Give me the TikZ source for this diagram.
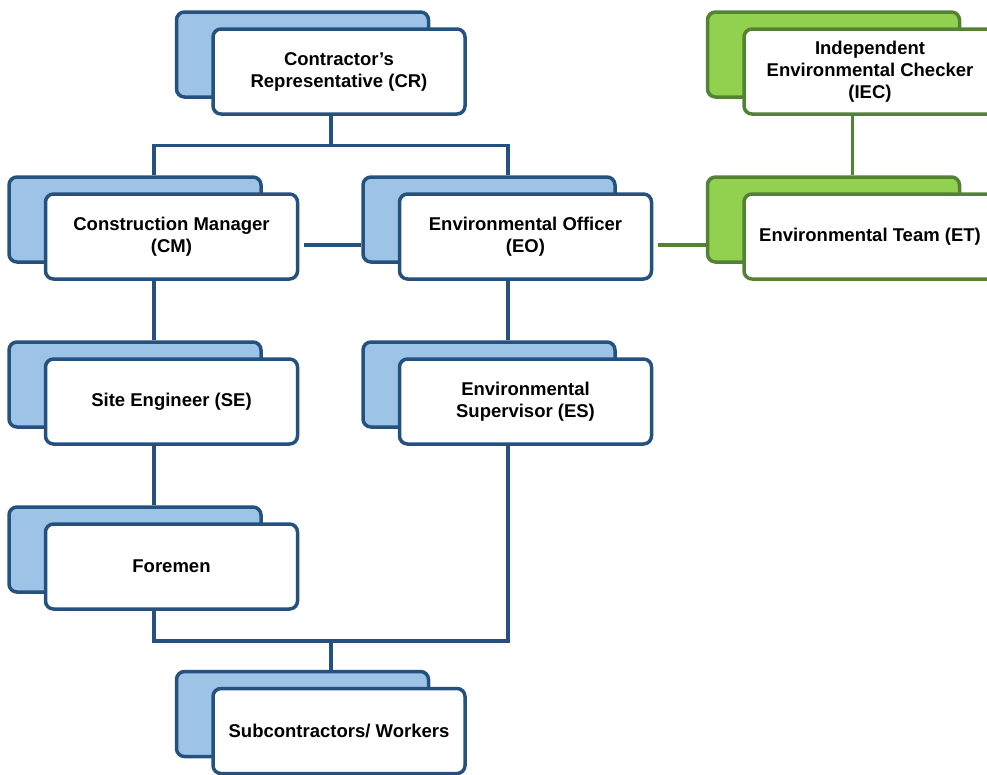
\documentclass[tikz,border=0pt]{standalone}
\usepackage{fontspec}
\setmainfont{Liberation Sans}
\usetikzlibrary{positioning, calc, backgrounds}
\definecolor{lineBlue}{HTML}{24517E}
\definecolor{fillBlue}{HTML}{9DC3E6}
\definecolor{lineGreen}{HTML}{548235}
\definecolor{fillGreen}{HTML}{92D050}

\begin{document}
\begin{tikzpicture}[x=1pt, y=-1pt,
    unitbox/.style={draw=lineBlue, line width=3.5pt, rounded corners=8pt, minimum width=252pt, minimum height=85pt},
    frontbox/.style={unitbox, fill=white, align=center, font=\bfseries\fontsize{18.5}{22}\selectfont},
    backbox/.style={unitbox, fill=fillBlue},
    link/.style={draw=lineBlue, line width=3.5pt},
    greenlink/.style={link, draw=lineGreen}]
    \useasboundingbox (0,0) rectangle (987,774);
    \clip (0,0) rectangle (987,774);

    % front boxes
    \node[frontbox] (cr) at (339,71.5) {Contractor’s\\Representative (CR)};
    \node[frontbox] (cm) at (171.5,236.5) {Construction Manager\\(CM)};
    \node[frontbox] (eo) at (525.5,236.5) {Environmental Officer\\(EO)};
    \node[frontbox] (se) at (171.5,401.5) {Site Engineer (SE)};
    \node[frontbox] (es) at (525.5,401.5) {Environmental\\Supervisor (ES)};
    \node[frontbox] (fm) at (171.5,566.5) {Foremen};
    \node[frontbox] (sub) at (339,731) {Subcontractors/ Workers};
    \node[frontbox, draw=lineGreen] (iec) at (870,71.5) {Independent\\Environmental Checker\\(IEC)};
    \node[frontbox, draw=lineGreen] (et) at (870,236.5) {Environmental Team (ET)};

    % back boxes
    \begin{scope}[on background layer]
        \foreach \nm in {cr, cm, eo, se, es, fm, sub}
            \node[backbox] (\nm b) at ([xshift=-36.5pt, yshift=17pt]\nm.center) {};
        \foreach \nm in {iec, et}
            \node[backbox, draw=lineGreen, fill=fillGreen] (\nm b) at ([xshift=-36.5pt, yshift=17pt]\nm.center) {};
    \end{scope}

    % top bus
    \draw[link] ([xshift=19pt]cmb.north) -- ++(0,-30) -| ([xshift=19pt]eob.north);
    \path ($([xshift=19pt]cmb.north)!0.5!([xshift=19pt]eob.north)$) ++(0,-30) coordinate (topmid);
    \draw[link] (topmid |- cr.south) -- (topmid);

    % chains
    \draw[link] ([xshift=19pt]seb.north) -- ([xshift=19pt]seb.north |- cm.south);
    \draw[link] ([xshift=19pt]fmb.north) -- ([xshift=19pt]fmb.north |- se.south);
    \draw[link] ([xshift=19pt]esb.north) -- ([xshift=19pt]esb.north |- eo.south);
    \draw[link] ([xshift=5pt, yshift=-8.5pt]cm.east) -- ([yshift=-8.5pt]cm.east -| eob.west);

    % bottom bus
    \draw[link] ([xshift=19pt]fmb.north |- fm.south) -- ++(0,30) -| ([xshift=19pt]esb.north |- es.south);
    \path ($([xshift=19pt]fmb.north |- fm.south)!0.5!([xshift=19pt]esb.north |- fm.south)$) ++(0,30) coordinate (botmid);
    \draw[link] (botmid) -- (botmid |- subb.north);

    % environmental team links
    \draw[greenlink] ([xshift=5pt, yshift=-8.5pt]eo.east) -- ([yshift=-8.5pt]eo.east -| etb.west);
    \draw[greenlink] ([xshift=19pt]etb.north) -- ([xshift=19pt]etb.north |- iec.south);
\end{tikzpicture}
\end{document}
